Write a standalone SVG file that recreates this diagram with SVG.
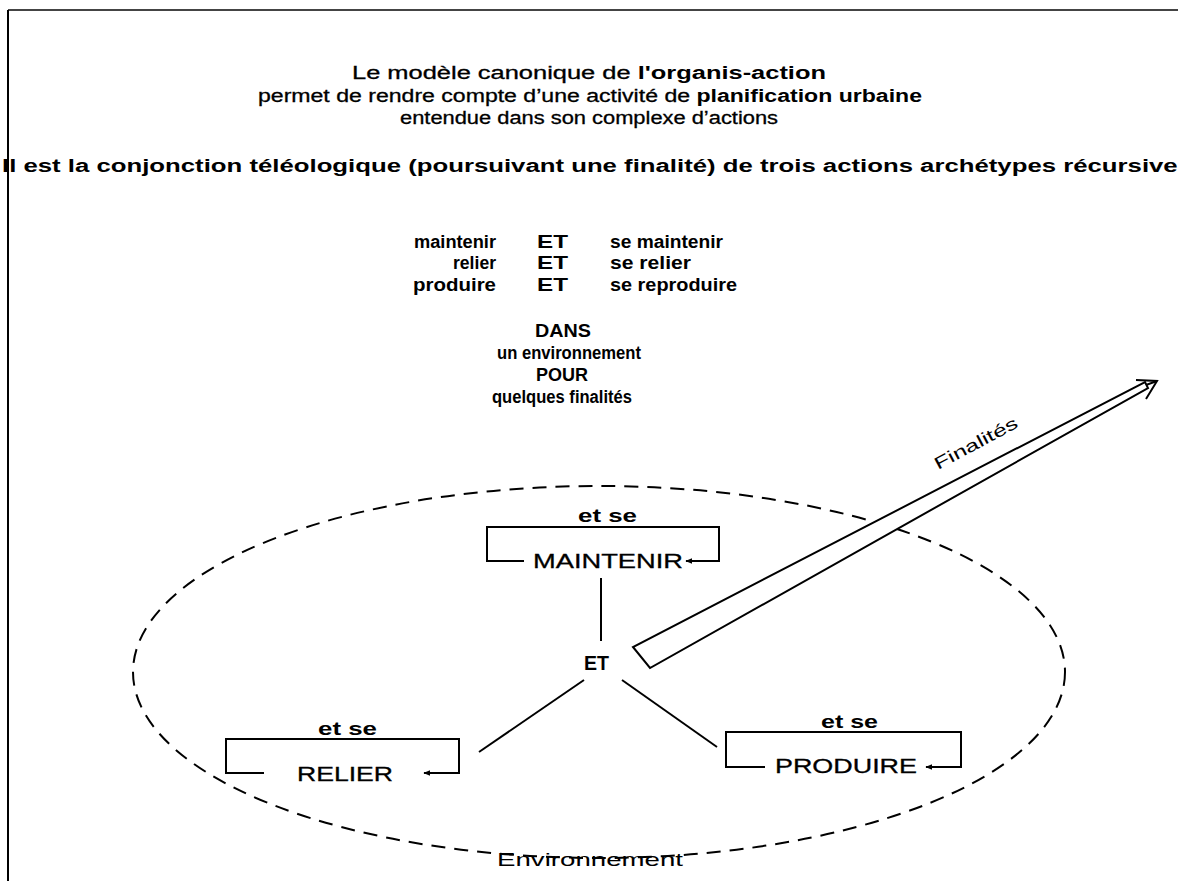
<svg xmlns="http://www.w3.org/2000/svg" width="1178" height="881" viewBox="0 0 1178 881">
  <defs>
    <style>
      text { font-family: "Liberation Sans", Arial, sans-serif; fill: #000; }
      .hd { font-size: 18px; stroke: #000; stroke-width: 0.3px; }
      .b { font-weight: bold; stroke-width: 0; }
      .tb { font-size: 18px; font-weight: bold; }
      .box { font-size: 20px; stroke: #000; stroke-width: 0.3px; }
      .etse { font-size: 18px; font-weight: bold; }
      .ln { stroke: #000; stroke-width: 2; fill: none; }
      .br { stroke: #000; stroke-width: 2; fill: none; }
    </style>
    <marker id="tip" viewBox="0 0 10 10" refX="9" refY="5" markerWidth="7" markerHeight="7" markerUnits="userSpaceOnUse" orient="auto">
      <path d="M0,1 L10,5 L0,9 Z" fill="#000"/>
    </marker>
  </defs>

  <rect x="0" y="0" width="1178" height="881" fill="#fff"/>

  <!-- page frame -->
  <line x1="8" y1="10" x2="1178" y2="10" stroke="#444" stroke-width="2"/>
  <line x1="8" y1="10" x2="8" y2="881" stroke="#000" stroke-width="2"/>

  <!-- heading -->
  <g id="heading">
    <text class="hd" x="352" y="79" textLength="474" lengthAdjust="spacingAndGlyphs">Le modèle canonique de <tspan class="b">l'organis-action</tspan></text>
    <text class="hd" x="258" y="102" textLength="664" lengthAdjust="spacingAndGlyphs">permet de rendre compte d’une activité de <tspan class="b">planification urbaine</tspan></text>
    <text class="hd" x="400" y="124" textLength="378" lengthAdjust="spacingAndGlyphs">entendue dans son complexe d’actions</text>
    <text class="hd b" x="2" y="172" textLength="1190" lengthAdjust="spacingAndGlyphs">Il est la conjonction téléologique (poursuivant une finalité) de trois actions archétypes récursives</text>
  </g>

  <!-- table of archetype actions -->
  <g id="table">
    <text class="tb" x="414" y="248" textLength="82" lengthAdjust="spacingAndGlyphs">maintenir</text>
    <text class="tb" x="537" y="248" textLength="31" lengthAdjust="spacingAndGlyphs">ET</text>
    <text class="tb" x="610" y="248" textLength="113" lengthAdjust="spacingAndGlyphs">se maintenir</text>
    <text class="tb" x="453" y="269" textLength="43" lengthAdjust="spacingAndGlyphs">relier</text>
    <text class="tb" x="537" y="269" textLength="31" lengthAdjust="spacingAndGlyphs">ET</text>
    <text class="tb" x="610" y="269" textLength="81" lengthAdjust="spacingAndGlyphs">se relier</text>
    <text class="tb" x="413" y="291" textLength="83" lengthAdjust="spacingAndGlyphs">produire</text>
    <text class="tb" x="537" y="291" textLength="31" lengthAdjust="spacingAndGlyphs">ET</text>
    <text class="tb" x="610" y="291" textLength="127" lengthAdjust="spacingAndGlyphs">se reproduire</text>
  </g>

  <g id="context">
    <text class="tb" x="535" y="337" textLength="56" lengthAdjust="spacingAndGlyphs">DANS</text>
    <text class="tb" x="497" y="359" textLength="144" lengthAdjust="spacingAndGlyphs">un environnement</text>
    <text class="tb" x="536" y="381" textLength="52" lengthAdjust="spacingAndGlyphs">POUR</text>
    <text class="tb" x="492" y="403" textLength="140" lengthAdjust="spacingAndGlyphs">quelques finalités</text>
  </g>

  <!-- environment -->
  <g id="environnement">
    <ellipse cx="599" cy="672" rx="466" ry="186" fill="none" stroke="#000" stroke-width="2" stroke-dasharray="14 9"/>
    <text x="497" y="866" font-size="19" textLength="186" lengthAdjust="spacingAndGlyphs">Environnement</text>
  </g>

  <!-- connectors -->
  <g id="connectors">
    <line class="ln" x1="601" y1="578" x2="601" y2="641"/>
    <line class="ln" x1="584" y1="680" x2="479" y2="752"/>
    <line class="ln" x1="622" y1="680" x2="717" y2="747"/>
  </g>

  <g id="et">
    <text class="b" x="584" y="670" font-size="21" textLength="25" lengthAdjust="spacingAndGlyphs">ET</text>
  </g>

  <!-- finalities arrow -->
  <g id="finalites">
    <polygon points="633,647 650,668 1148,388 1145,382" fill="#fff" stroke="#000" stroke-width="2" stroke-linejoin="miter"/>
    <polyline points="1136,380 1157,381 1146,399" fill="none" stroke="#000" stroke-width="2"/>
    <line x1="1146" y1="385" x2="1157" y2="381" stroke="#000" stroke-width="2"/>
    <text transform="translate(938,470) rotate(-28)" font-size="17" textLength="92" lengthAdjust="spacingAndGlyphs">Finalités</text>
  </g>

  <!-- action nodes -->
  <g id="maintenir">
    <text class="etse" x="578" y="522" textLength="59" lengthAdjust="spacingAndGlyphs">et se</text>
    <polyline class="br" points="524,561 487,561 487,527 719,527 719,561 701,561"/>
    <line class="br" x1="701" y1="561" x2="686" y2="561" marker-end="url(#tip)"/>
    <text class="box" x="533" y="568" textLength="150" lengthAdjust="spacingAndGlyphs">MAINTENIR</text>
  </g>

  <g id="relier">
    <text class="etse" x="318" y="735" textLength="59" lengthAdjust="spacingAndGlyphs">et se</text>
    <polyline class="br" points="264,773 226,773 226,739 459,739 459,773 440,773"/>
    <line class="br" x1="440" y1="773" x2="424" y2="773" marker-end="url(#tip)"/>
    <text class="box" x="297" y="781" textLength="96" lengthAdjust="spacingAndGlyphs">RELIER</text>
  </g>

  <g id="produire">
    <text class="etse" x="821" y="728" textLength="57" lengthAdjust="spacingAndGlyphs">et se</text>
    <polyline class="br" points="765,767 726,767 726,732 961,732 961,767 942,767"/>
    <line class="br" x1="942" y1="767" x2="926" y2="767" marker-end="url(#tip)"/>
    <text class="box" x="775" y="773" textLength="142" lengthAdjust="spacingAndGlyphs">PRODUIRE</text>
  </g>
</svg>
